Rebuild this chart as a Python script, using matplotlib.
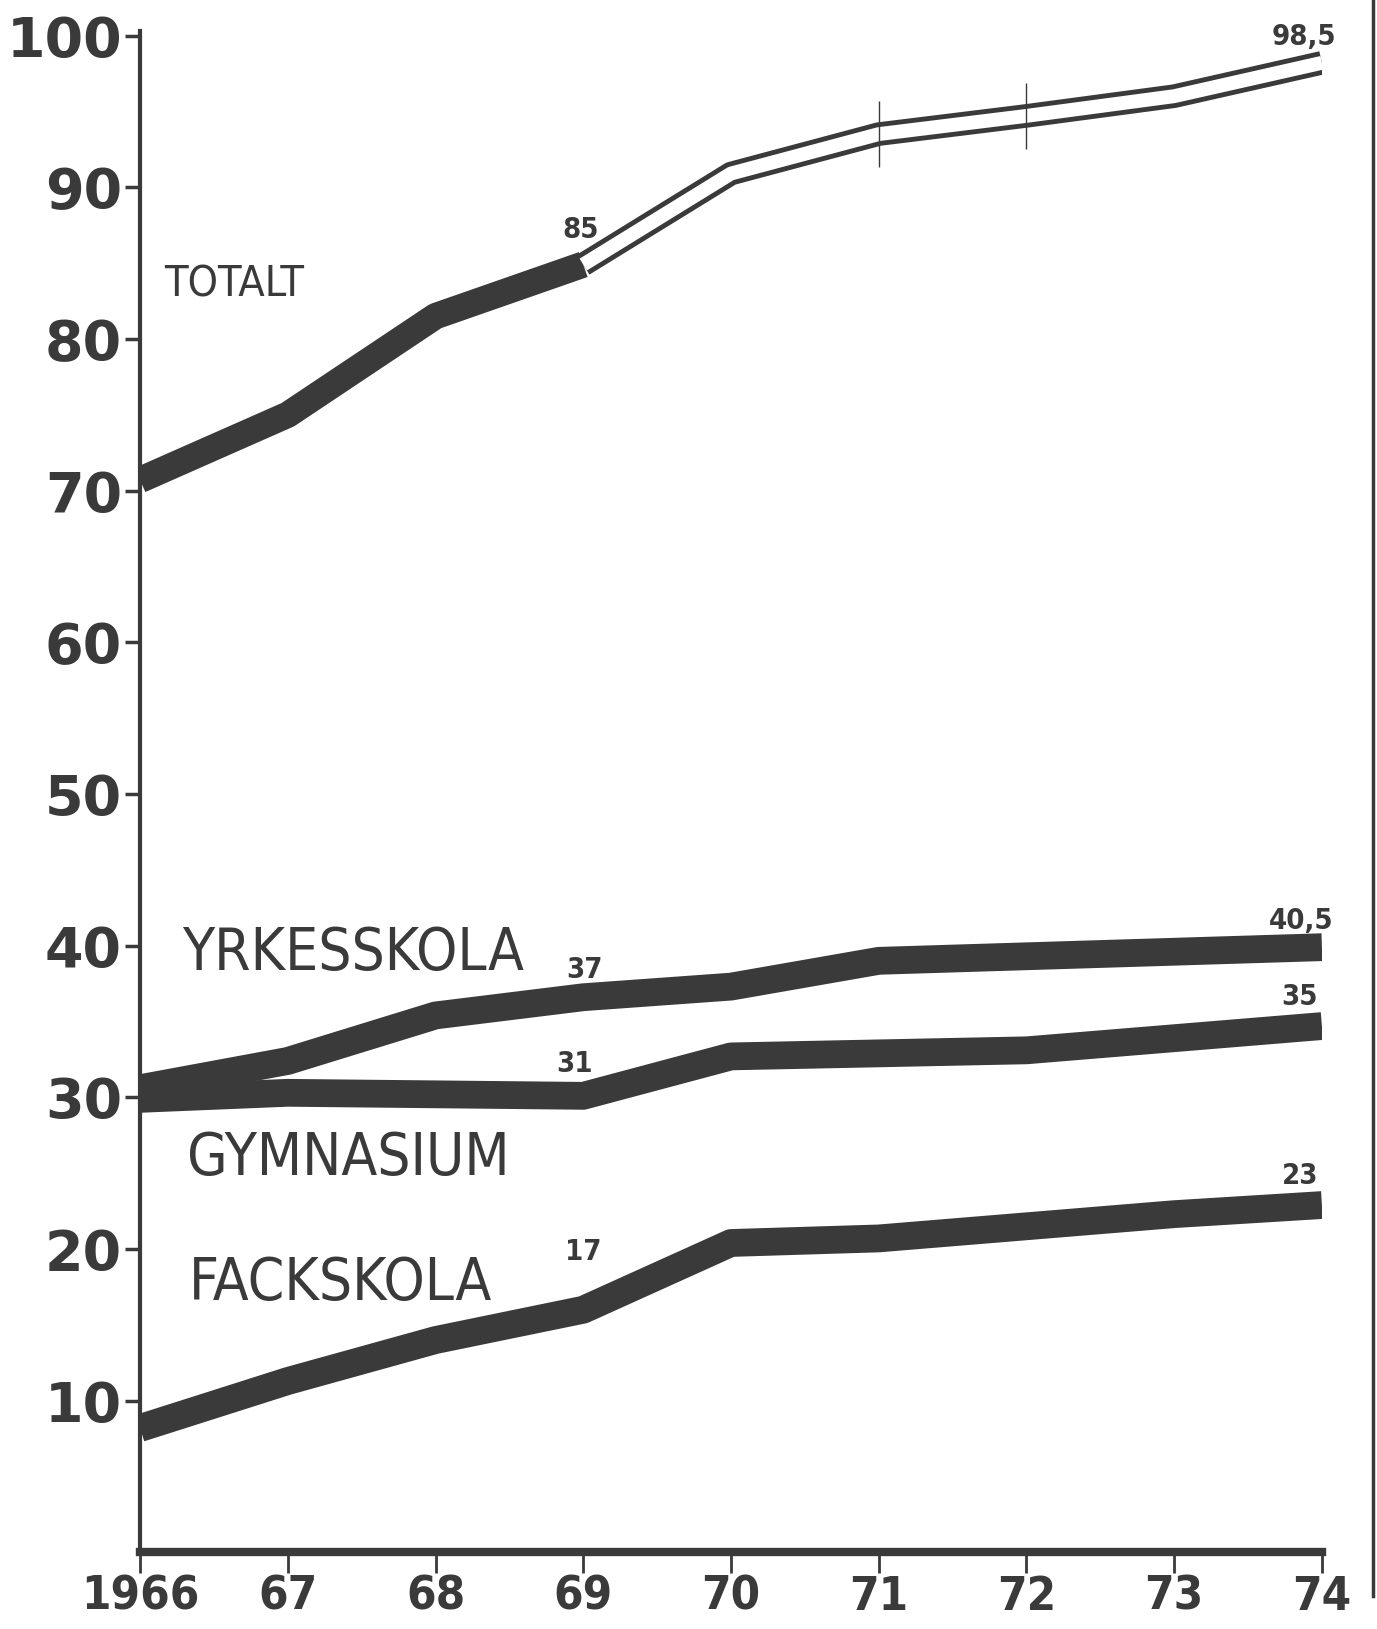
import matplotlib.pyplot as plt
from matplotlib.lines import Line2D

# årtal och andelar (procent)
ar = [1966, 1967, 1968, 1969, 1970, 1971, 1972, 1973, 1974]
totalt = [70.7, 75.0, 81.5, 84.9, 90.9, 93.5, 94.7, 96.0, 98.2]
yrkesskola = [30.6, 32.4, 35.4, 36.6, 37.3, 39.0, 39.3, 39.6, 39.9]
gymnasium = [29.9, 30.3, 30.2, 30.1, 32.7, 32.9, 33.1, 33.9, 34.7]
fackskola = [8.2, 11.3, 14.0, 16.0, 20.4, 20.7, 21.5, 22.3, 22.9]

xetiketter = ["1966", "67", "68", "69", "70", "71", "72", "73", "74"]
yvarden = [10, 20, 30, 40, 50, 60, 70, 80, 90, 100]

# siffror skrivna vid kurvorna: (text, x, y)
siffror = [("85", 1968.98, 87.2), ("37", 1969.01, 38.4), ("31", 1968.94, 32.2),
           ("17", 1969.0, 19.8), ("98,5", 1973.88, 99.9), ("40,5", 1973.86, 41.6),
           ("35", 1973.85, 36.6), ("23", 1973.85, 24.8)]
namn = [("TOTALT", 1966.64, 83.6, 31), ("YRKESSKOLA", 1967.44, 39.5, 42),
        ("GYMNASIUM", 1967.41, 26.0, 42), ("FACKSKOLA", 1967.36, 17.7, 42)]

mork = "#3a3a3a"

fig = plt.figure(figsize=(13.77, 16.29), dpi=100)
ax = fig.add_axes([0.1017, 0.0470, 0.8583, 0.9340])

# breda band
for serie in (fackskola, gymnasium, yrkesskola):
    ax.plot(ar, serie, color=mork, lw=20, solid_capstyle="butt", solid_joinstyle="round")

# totalt: fyllt till 1969, sedan ihåligt
ax.plot(ar[:4], totalt[:4], color=mork, lw=19, solid_capstyle="butt", solid_joinstyle="round")
ax.plot(ar[3:], totalt[3:], color=mork, lw=17, solid_capstyle="butt", solid_joinstyle="round")
ax.plot(ar[3:], totalt[3:], color="white", lw=10, solid_capstyle="butt", solid_joinstyle="round")
# små lodräta streck vid 71 och 72
for i in (5, 6):
    ax.vlines(ar[i], totalt[i] - 2.2, totalt[i] + 2.2, color=mork, lw=1)

for t, x, y in siffror:
    ax.text(x, y, t, ha="center", va="center", fontsize=21, fontweight="bold",
            fontstretch="condensed", color=mork)
for t, x, y, fs in namn:
    ax.text(x, y, t, ha="center", va="center", fontsize=fs,
            fontstretch="condensed", color=mork)

ax.set_xlim(1966, 1974)
ax.set_ylim(0, 100.3)
ax.set_xticks(ar)
ax.set_xticklabels(xetiketter)
ax.set_yticks(yvarden)
ax.set_yticklabels([str(v) for v in yvarden])

for s in ("top", "right"):
    ax.spines[s].set_visible(False)
ax.spines["left"].set_linewidth(3)
ax.spines["bottom"].set_linewidth(6)
ax.spines["left"].set_color(mork)
ax.spines["bottom"].set_color(mork)

ax.tick_params(axis="y", direction="out", length=11, width=2.5, pad=2, colors=mork,
               labelsize=40)
ax.tick_params(axis="x", direction="out", length=15, width=2, pad=1, colors=mork,
               labelsize=34)
for lab in ax.get_yticklabels():
    lab.set_fontweight("heavy")
for lab in ax.get_xticklabels():
    lab.set_fontweight("heavy")
    lab.set_fontstretch("condensed")

# mörk kant till höger i inskanningen
fig.add_artist(Line2D([0.997, 0.997], [0.02, 1.0], color=mork, lw=2.5))

fig.savefig("out.png", dpi=100)
